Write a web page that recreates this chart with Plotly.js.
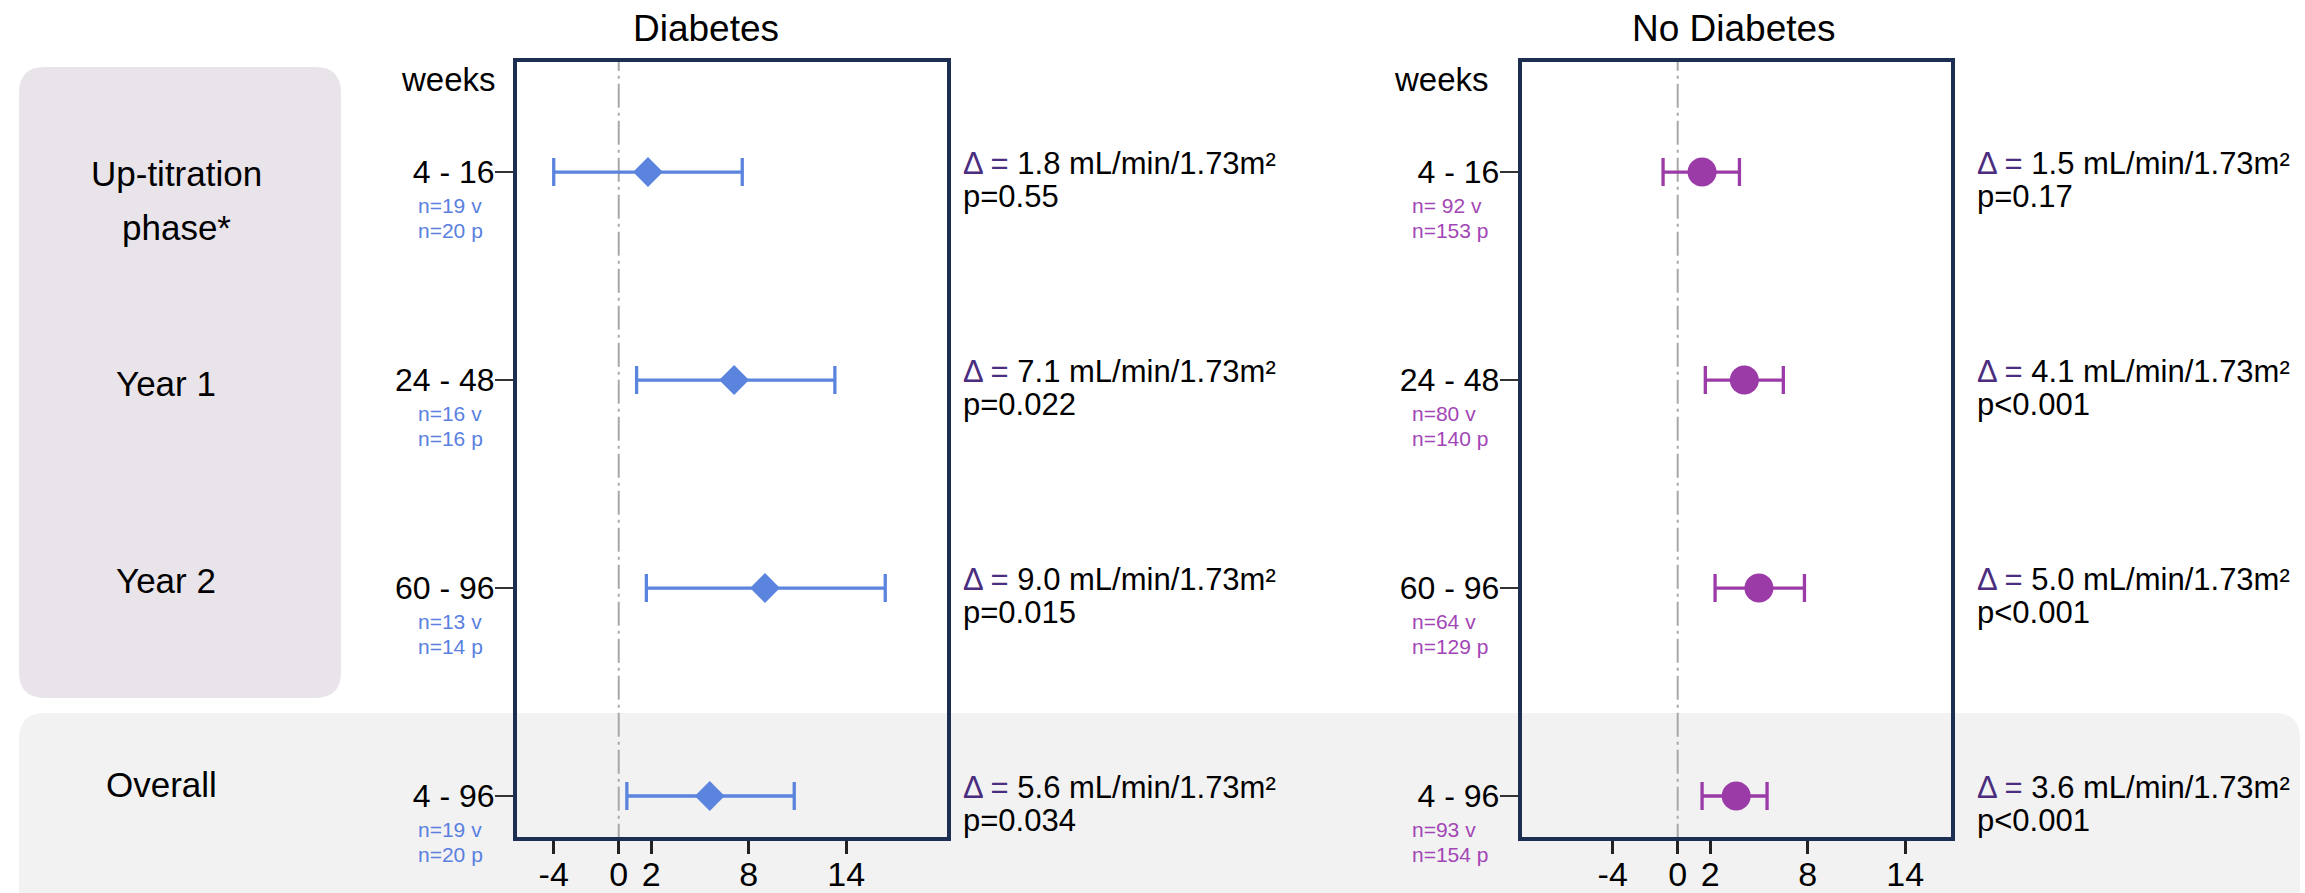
<!DOCTYPE html>
<html><head><meta charset="utf-8">
<script src="https://cdn.plot.ly/plotly-3.0.1.min.js"></script>
<style>html,body{margin:0;padding:0;background:#fff;overflow:hidden}</style>
</head><body><div id="chart" style="width:2305px;height:893px"></div>
<script>
// ---------- data ----------
const weeks = ["4 - 16", "24 - 48", "60 - 96", "4 - 96"];
const groupLabels = ["Up-titration<br>phase*", "Year 1", "Year 2", "Overall"];
const panelTitles = ["Diabetes", "No Diabetes"];
const xTickVals = [-4, 0, 2, 8, 14];
const xTickText = ["-4", "0", "2", "8", "14"];

const diabMean = [1.8, 7.1, 9.0, 5.6];
const diabLow  = [-4.0, 1.1, 1.7, 0.5];
const diabHigh = [7.6, 13.3, 16.4, 10.8];
const diabP    = ["p=0.55", "p=0.022", "p=0.015", "p=0.034"];
const diabNv   = ["n=19 v", "n=16 v", "n=13 v", "n=19 v"];
const diabNp   = ["n=20 p", "n=16 p", "n=14 p", "n=20 p"];

const noDiabMean = [1.5, 4.1, 5.0, 3.6];
const noDiabLow  = [-0.9, 1.7, 2.3, 1.5];
const noDiabHigh = [3.8, 6.5, 7.8, 5.5];
const noDiabP    = ["p=0.17", "p<0.001", "p<0.001", "p<0.001"];
const noDiabNv   = ["n= 92 v", "n=80 v", "n=64 v", "n=93 v"];
const noDiabNp   = ["n=153 p", "n=140 p", "n=129 p", "n=154 p"];

// ---------- styling ----------
const W = 2305, H = 893;
const px = x => x / W;
const py = y => 1 - y / H;
const FONT = "Arial, 'Liberation Sans', sans-serif";
const NAVY = "#1C2E52";
const BLUE = "#5B84DE";
const BLUE_TXT = "#5A80E0";
const PURPLE = "#9B3BA8";
const PURPLE_TXT = "#A246B5";
const DELTA = "#4B2D7F";

function trace(mean, lo, hi, xa, ya, color, symbol, size) {
  return {
    type: "scatter", mode: "markers", x: mean, y: weeks, xaxis: xa, yaxis: ya,
    marker: {color: color, symbol: symbol, size: size, line: {width: 0}},
    error_x: {type: "data", symmetric: false,
      array: hi.map((h, i) => h - mean[i]),
      arrayminus: lo.map((l, i) => mean[i] - l),
      color: color, thickness: 3.3, width: 14},
    hoverinfo: "skip", showlegend: false, cliponaxis: false
  };
}
const data = [
  trace(diabMean, diabLow, diabHigh, "x", "y", BLUE, "diamond", 23),
  trace(noDiabMean, noDiabLow, noDiabHigh, "x2", "y2", PURPLE, "circle", 29)
];

const xBase = {showline: true, mirror: true, linecolor: NAVY, linewidth: 4,
  ticks: "outside", ticklen: 13, tickwidth: 3, tickcolor: "#222",
  tickmode: "array", tickvals: xTickVals, ticktext: xTickText,
  ticklabelstandoff: -9,
  tickfont: {size: 34, color: "#000", family: FONT},
  showgrid: false, zeroline: false, fixedrange: true};
const yBase = {type: "category", categoryorder: "array", categoryarray: weeks,
  autorange: false, range: [3.197, -0.529],
  showline: true, mirror: true, linecolor: NAVY, linewidth: 4,
  ticks: "outside", ticklen: 18, tickwidth: 2.5, tickcolor: "#333",
  ticklabelstandoff: -6,
  tickfont: {size: 32, color: "#000", family: FONT},
  showgrid: false, zeroline: false, fixedrange: true,
  domain: [py(837), py(62)]};

function rr(x0, y0, x1, y1, r, bottomRound) {
  const P = (x, y) => px(x).toFixed(5) + "," + py(y).toFixed(5);
  let d = "M" + P(x0 + r, y0) + " L" + P(x1 - r, y0) + " Q" + P(x1, y0) + " " + P(x1, y0 + r);
  if (bottomRound) {
    d += " L" + P(x1, y1 - r) + " Q" + P(x1, y1) + " " + P(x1 - r, y1) +
         " L" + P(x0 + r, y1) + " Q" + P(x0, y1) + " " + P(x0, y1 - r);
  } else {
    d += " L" + P(x1, y1) + " L" + P(x0, y1);
  }
  d += " L" + P(x0, y0 + r) + " Q" + P(x0, y0) + " " + P(x0 + r, y0) + " Z";
  return d;
}

const shapes = [
  {type: "path", xref: "paper", yref: "paper", path: rr(19, 67, 341, 698, 26, true),
   fillcolor: "#E8E4EA", line: {width: 0}, layer: "below"},
  {type: "path", xref: "paper", yref: "paper", path: rr(19, 713, 2300, 920, 26, false),
   fillcolor: "#F2F2F2", line: {width: 0}, layer: "below"},
  {type: "line", xref: "x", yref: "y domain", x0: 0, x1: 0, y0: -0.014, y1: 1,
   line: {color: "#A8A8A8", width: 2, dash: "24px,5px,3px,5px"}, layer: "below"},
  {type: "line", xref: "x2", yref: "y2 domain", x0: 0, x1: 0, y0: -0.014, y1: 1,
   line: {color: "#A8A8A8", width: 2, dash: "24px,5px,3px,5px"}, layer: "below"}
];

const annotations = [];
function ann(text, x, y, o) {
  annotations.push(Object.assign({text: text, x: x, y: y, xref: "paper", yref: "paper",
    showarrow: false, xanchor: "center", yanchor: "middle",
    font: {family: FONT, size: 31, color: "#000"}}, o || {}));
}
// panel titles
ann(panelTitles[0], px(706), py(29), {font: {family: FONT, size: 37, color: "#000"}});
ann(panelTitles[1], px(1734), py(29), {font: {family: FONT, size: 37, color: "#000"}});
// weeks
ann("weeks", px(448), py(80), {font: {family: FONT, size: 33, color: "#000"}});
ann("weeks", px(1441), py(80), {font: {family: FONT, size: 33, color: "#000"}});
// group labels
const groupPos = [[176, [174, 228]], [166, [384]], [166, [580]], [161, [784]]];
groupLabels.forEach((g, i) => {
  g.split("<br>").forEach((line, j) => {
    ann(line, px(groupPos[i][0]), py(groupPos[i][1][j]), {font: {family: FONT, size: 35, color: "#000"}});
  });
});
// per-row annotations
function rowAnns(mean, pv, nv, np, ya, xDelta, xN, nColor) {
  weeks.forEach((w, i) => {
    const deltaTxt = '<span style="color:' + DELTA + ';font-size:31px">\u0394 =</span> ' + mean[i].toFixed(1) + " mL/min/1.73m\u00B2";
    ann(deltaTxt, px(xDelta), i, {yref: ya, xanchor: "left", yshift: 9});
    ann(pv[i].replace("<", "&lt;"), px(xDelta), i, {yref: ya, xanchor: "left", yshift: -24});
    ann(nv[i], px(xN), i, {yref: ya, xanchor: "left", yshift: -33, font: {family: FONT, size: 21, color: nColor}});
    ann(np[i], px(xN), i, {yref: ya, xanchor: "left", yshift: -58, font: {family: FONT, size: 21, color: nColor}});
  });
}
rowAnns(diabMean, diabP, diabNv, diabNp, "y", 961, 416, BLUE_TXT);
rowAnns(noDiabMean, noDiabP, noDiabNv, noDiabNp, "y2", 1975, 1410, PURPLE_TXT);

const layout = {
  width: W, height: H, autosize: false,
  margin: {l: 0, r: 0, t: 0, b: 0, pad: 0},
  paper_bgcolor: "#FFFFFF", plot_bgcolor: "rgba(0,0,0,0)",
  font: {family: FONT, color: "#000"},
  showlegend: false,
  xaxis: Object.assign({}, xBase, {domain: [517 / W, 947 / W], range: [-6.26, 20.2], anchor: "y"}),
  xaxis2: Object.assign({}, xBase, {domain: [1521.7 / W, 1950.7 / W], range: [-9.6, 16.8], anchor: "y2"}),
  yaxis: Object.assign({}, yBase, {anchor: "x"}),
  yaxis2: Object.assign({}, yBase, {anchor: "x2"}),
  shapes: shapes,
  annotations: annotations
};
Plotly.newPlot("chart", data, layout, {displayModeBar: false, staticPlot: true});
</script>
</body></html>
